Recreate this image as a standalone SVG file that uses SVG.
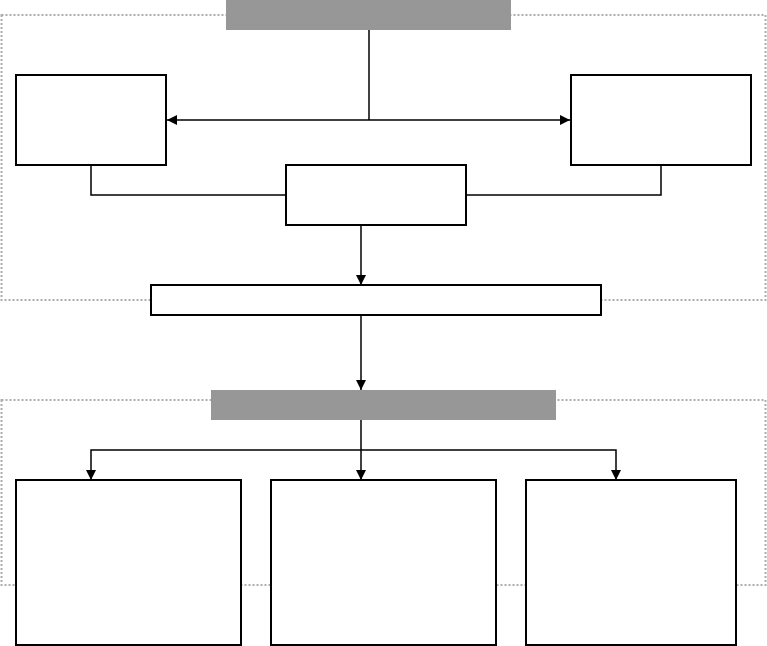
<svg xmlns="http://www.w3.org/2000/svg" width="767" height="646" viewBox="0 0 767 646">
<style>
.container{fill:none;stroke:#adadad;stroke-width:2;stroke-dasharray:2 2}
.bar{fill:#979797;stroke:none}
.box{fill:#ffffff;stroke:#000000;stroke-width:2}
.conn{fill:none;stroke:#000000;stroke-width:1.5}
</style>
<defs>
<marker id="arr" viewBox="0 0 10 10" refX="10" refY="5" markerWidth="10" markerHeight="10" markerUnits="userSpaceOnUse" orient="auto-start-reverse">
<path d="M0,0 L10,5 L0,10 Z" fill="#000000"/>
</marker>
</defs>
<rect width="767" height="646" fill="#ffffff"/>
<g id="group-top"><rect class="container" x="1.5" y="15" width="764" height="285"/></g>
<g id="group-bottom"><rect class="container" x="1.5" y="400" width="764" height="185"/></g>
<g id="connectors">
<path class="conn" d="M369,30 V120"/>
<path class="conn" d="M167,120 H570" marker-start="url(#arr)" marker-end="url(#arr)"/>
<path class="conn" d="M91,165 V195 H286"/>
<path class="conn" d="M466,195 H661 V165"/>
<path class="conn" d="M361,225 V285" marker-end="url(#arr)"/>
<path class="conn" d="M361,315 V390" marker-end="url(#arr)"/>
<path class="conn" d="M361,420 V480" marker-end="url(#arr)"/>
<path class="conn" d="M91,480 V450 H616 V480" marker-start="url(#arr)" marker-end="url(#arr)"/>
</g>
<g id="bar-top"><rect class="bar" x="226" y="0" width="285" height="30"/></g>
<g id="box-left"><rect class="box" x="16" y="75" width="150" height="90"/></g>
<g id="box-right"><rect class="box" x="571" y="75" width="180" height="90"/></g>
<g id="box-middle"><rect class="box" x="286" y="165" width="180" height="60"/></g>
<g id="box-wide"><rect class="box" x="151" y="285" width="450" height="30"/></g>
<g id="bar-bottom"><rect class="bar" x="211" y="390" width="345" height="30"/></g>
<g id="box-b1"><rect class="box" x="16" y="480" width="225" height="165"/></g>
<g id="box-b2"><rect class="box" x="271" y="480" width="225" height="165"/></g>
<g id="box-b3"><rect class="box" x="526" y="480" width="210" height="165"/></g>
</svg>
